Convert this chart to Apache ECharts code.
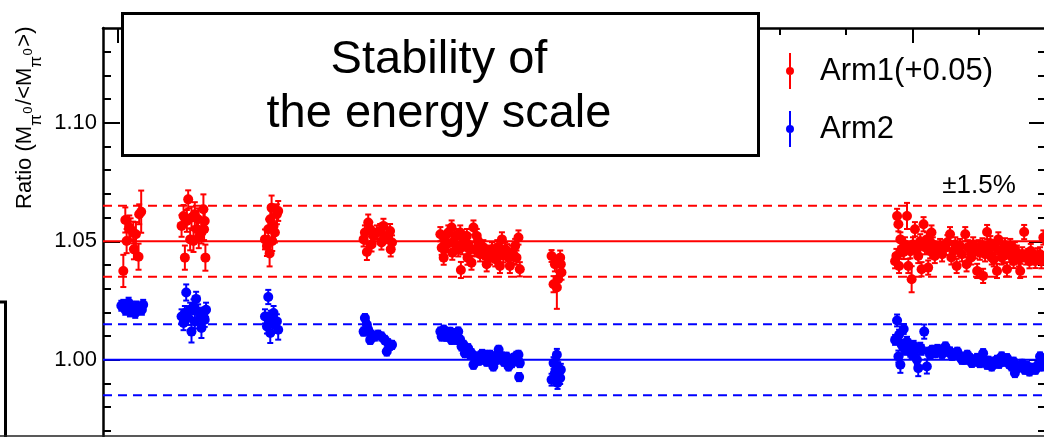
<!DOCTYPE html>
<html><head><meta charset="utf-8">
<script src="https://cdn.jsdelivr.net/npm/echarts@6/dist/echarts.min.js"></script>
<style>html,body{margin:0;padding:0;background:#fff}#c{width:1044px;height:437px}</style>
</head><body><div id="c"></div><script>
// ---- data: [time (days), ratio, error] ----
const ARM1_SHIFT = 0.05;
const arm1Points = [
  [0.8,0.9875,0.0068],[1.1,1.0090,0.0053],[1.3,1.0001,0.0051],[1.7,1.0058,0.0051],[1.9,1.0051,0.0046],[2.3,1.0037,0.0046],[2.4,0.9966,0.0042],[2.7,1.0030,0.0051],[3.1,0.9935,0.0055],[3.2,1.0114,0.0042],[3.5,1.0125,0.0089],
  [9.6,1.0065,0.0046],[9.9,1.0107,0.0046],[10.1,0.9931,0.0051],[10.4,1.0086,0.0046],[10.6,1.0177,0.0038],[10.9,1.0008,0.0046],[11.1,1.0100,0.0046],[11.4,1.0001,0.0046],[11.6,1.0114,0.0051],[11.9,1.0051,0.0046],[12.1,1.0093,0.0046],[12.2,1.0017,0.0046],[12.6,1.0037,0.0046],[12.9,1.0135,0.0063],[13.0,1.0051,0.0046],[13.1,1.0086,0.0046],[13.2,0.9931,0.0055],
  [22.2,1.0008,0.0042],[22.5,0.9980,0.0042],[22.7,1.0051,0.0042],[22.9,0.9949,0.0055],[23.0,1.0093,0.0042],[23.2,1.0142,0.0051],[23.3,1.0001,0.0042],[23.5,1.0065,0.0042],[23.7,1.0037,0.0042],[24.0,1.0114,0.0042],[24.2,1.0128,0.0042],
  [37.1,1.0008,0.0030],[37.3,1.0037,0.0030],[37.6,0.9955,0.0034],[37.8,1.0079,0.0034],[38.1,1.0051,0.0030],[38.3,0.9987,0.0030],[38.6,1.0022,0.0030],[39.1,1.0037,0.0030],[39.6,1.0043,0.0030],[39.8,0.9995,0.0030],[40.1,1.0065,0.0030],[40.6,1.0022,0.0030],[41.1,1.0043,0.0030],[41.2,0.9966,0.0030],[41.4,0.9995,0.0030],
  [48.7,1.0030,0.0030],[48.9,0.9973,0.0030],[49.2,0.9931,0.0030],[49.3,0.9966,0.0030],[49.4,1.0001,0.0030],[49.7,0.9987,0.0030],[49.9,1.0037,0.0030],[50.4,1.0058,0.0030],[50.5,0.9952,0.0030],[50.6,0.9996,0.0030],[50.9,1.0022,0.0030],[51.2,0.9980,0.0030],[51.4,0.9966,0.0030],[51.7,1.0037,0.0030],[51.8,0.9879,0.0034],[52.0,0.9975,0.0030],[52.2,1.0008,0.0030],[52.7,1.0022,0.0030],[52.8,0.9931,0.0030],[52.9,0.9987,0.0030],[53.2,0.9966,0.0030],[53.4,0.9910,0.0030],[53.7,1.0058,0.0030],[53.9,0.9966,0.0030],[54.2,1.0022,0.0030],[54.4,1.0001,0.0030],[54.7,0.9945,0.0030],[55.0,0.9966,0.0030],[55.2,0.9975,0.0030],[55.5,0.9938,0.0030],[55.7,0.9903,0.0030],[56.0,0.9952,0.0030],[56.2,0.9932,0.0030],[56.5,0.9966,0.0030],[56.7,0.9945,0.0030],[57.0,0.9924,0.0030],[57.3,0.9975,0.0030],[57.5,0.9952,0.0030],[57.7,0.9896,0.0030],[58.0,1.0008,0.0030],[58.2,0.9941,0.0030],[58.5,0.9966,0.0030],[58.8,0.9958,0.0030],[59.0,0.9931,0.0030],[59.2,0.9896,0.0030],[59.5,0.9952,0.0030],[59.7,0.9937,0.0030],[60.0,0.9980,0.0030],[60.2,0.9931,0.0030],[60.5,1.0016,0.0030],[60.7,0.9882,0.0030],
  [65.5,0.9938,0.0025],[65.8,0.9819,0.0034],[66.0,0.9903,0.0030],[66.3,0.9805,0.0090],[66.5,0.9840,0.0030],[66.8,0.9931,0.0030],[66.9,0.9903,0.0030],[67.0,0.9868,0.0030],
  [117.4,0.9916,0.0030],[117.6,0.9938,0.0030],[117.7,1.0107,0.0030],[117.9,1.0072,0.0030],[118.0,0.9896,0.0030],[118.2,1.0008,0.0030],[118.4,0.9966,0.0030],[118.7,0.9955,0.0030],[118.9,0.9987,0.0030],[119.2,1.0107,0.0055],[119.4,0.9896,0.0030],[119.7,0.9958,0.0030],[119.9,0.9840,0.0055],[120.1,0.9987,0.0030],[120.4,1.0051,0.0030],[120.7,0.9966,0.0030],[120.9,0.9938,0.0030],[121.2,1.0000,0.0030],[121.4,0.9882,0.0030],[121.7,1.0072,0.0030],[121.9,0.9975,0.0030],[122.2,1.0008,0.0030],[122.4,0.9889,0.0030],[122.7,0.9958,0.0030],[122.9,1.0037,0.0030],[123.1,0.9987,0.0030],[123.4,0.9938,0.0030],[123.7,0.9966,0.0030],[124.2,0.9980,0.0030],[124.5,0.9945,0.0030],[125.0,0.9973,0.0030],[125.3,0.9996,0.0030],[125.7,1.0030,0.0030],[125.9,0.9932,0.0030],[126.2,0.9959,0.0030],[126.5,0.9987,0.0030],[126.7,0.9896,0.0030],[127.0,0.9966,0.0030],[127.2,0.9980,0.0030],[127.5,0.9945,0.0030],[128.0,1.0030,0.0030],[128.2,0.9903,0.0030],[128.4,0.9975,0.0030],[128.7,0.9966,0.0030],[128.9,0.9932,0.0030],[129.2,0.9987,0.0030],[129.5,0.9958,0.0030],[129.8,0.9875,0.0030],[130.0,0.9975,0.0030],[130.2,0.9952,0.0030],[130.6,0.9983,0.0030],[130.7,0.9854,0.0030],[131.0,0.9945,0.0030],[131.3,1.0039,0.0030],[131.5,0.9966,0.0030],[131.8,0.9992,0.0030],[132.0,0.9932,0.0030],[132.3,0.9924,0.0030],[132.5,0.9975,0.0030],[132.8,0.9875,0.0030],[133.0,1.0008,0.0030],[133.3,0.9958,0.0030],[133.5,0.9932,0.0030],[133.8,0.9938,0.0030],[134.0,0.9983,0.0030],[134.3,0.9882,0.0030],[134.6,0.9958,0.0030],[134.8,0.9980,0.0030],[135.1,0.9932,0.0030],[135.3,0.9917,0.0030],[135.5,0.9966,0.0030],[135.8,0.9952,0.0030],[136.1,0.9924,0.0030],[136.3,0.9875,0.0030],[136.6,0.9945,0.0030],[136.9,1.0039,0.0030],[137.2,0.9932,0.0030],[137.5,0.9938,0.0030],[137.7,0.9916,0.0030],[137.9,0.9959,0.0030],[138.3,0.9932,0.0030],[138.6,0.9917,0.0030],[138.9,0.9941,0.0030],[139.3,0.9945,0.0030],[139.5,0.9916,0.0030],[139.8,1.0016,0.0030]
];
const arm2Points = [
  [0.5,1.0228,0.0021],[0.8,1.0232,0.0021],[1.1,1.0211,0.0021],[1.3,1.0218,0.0021],[1.6,1.0241,0.0021],[1.8,1.0204,0.0021],[2.0,1.0224,0.0021],[2.3,1.0211,0.0021],[2.6,1.0198,0.0021],[2.8,1.0225,0.0021],[3.1,1.0215,0.0021],[3.3,1.0218,0.0021],[3.6,1.0211,0.0021],[3.8,1.0232,0.0021],
  [9.6,1.0183,0.0030],[9.9,1.0155,0.0030],[10.1,1.0197,0.0030],[10.3,1.0284,0.0034],[10.6,1.0177,0.0030],[10.9,1.0211,0.0030],[11.1,1.0119,0.0046],[11.4,1.0225,0.0030],[11.6,1.0162,0.0030],[11.8,1.0257,0.0030],[12.1,1.0204,0.0030],[12.4,1.0177,0.0030],[12.6,1.0134,0.0042],[12.9,1.0190,0.0030],[13.1,1.0169,0.0030],[13.3,1.0211,0.0030],
  [22.2,1.0183,0.0030],[22.5,1.0141,0.0030],[22.7,1.0265,0.0030],[22.9,1.0169,0.0030],[23.0,1.0113,0.0042],[23.1,1.0177,0.0030],[23.5,1.0197,0.0030],[23.7,1.0148,0.0030],[24.0,1.0162,0.0030],[24.2,1.0127,0.0042],
  [37.1,1.0119,0.0017],[37.3,1.0176,0.0017],[37.6,1.0148,0.0017],[37.8,1.0127,0.0017],[38.1,1.0084,0.0017],[38.3,1.0106,0.0017],[38.8,1.0098,0.0017],[39.3,1.0106,0.0017],[39.8,1.0098,0.0017],[40.3,1.0084,0.0017],[40.6,1.0035,0.0017],[40.8,1.0070,0.0017],[41.1,1.0059,0.0017],[41.4,1.0063,0.0017],
  [48.7,1.0119,0.0017],[48.9,1.0098,0.0017],[49.2,1.0127,0.0017],[49.4,1.0119,0.0017],[49.6,1.0097,0.0017],[49.9,1.0106,0.0017],[50.2,1.0118,0.0017],[50.4,1.0084,0.0017],[50.7,1.0101,0.0017],[50.9,1.0113,0.0017],[51.2,1.0084,0.0017],[51.4,1.0119,0.0017],[51.7,1.0084,0.0017],[51.9,1.0056,0.0017],[52.2,1.0063,0.0017],[52.4,1.0028,0.0017],[52.7,1.0042,0.0017],[52.9,1.0049,0.0017],[53.2,1.0021,0.0017],[53.4,1.0028,0.0017],[53.7,0.9979,0.0017],[53.9,1.0008,0.0017],[54.2,1.0014,0.0017],[54.5,0.9996,0.0017],[54.7,1.0000,0.0017],[55.0,1.0025,0.0017],[55.5,1.0021,0.0017],[55.7,0.9992,0.0017],[56.0,1.0007,0.0017],[56.2,1.0021,0.0017],[56.5,0.9993,0.0017],[56.7,0.9972,0.0017],[57.0,1.0014,0.0017],[57.2,1.0000,0.0017],[57.5,1.0042,0.0017],[57.7,1.0008,0.0017],[58.0,1.0014,0.0017],[58.3,0.9992,0.0017],[58.5,0.9993,0.0017],[58.7,1.0013,0.0017],[59.0,0.9972,0.0017],[59.2,1.0000,0.0017],[59.5,0.9986,0.0017],[59.8,1.0008,0.0017],[60.0,1.0000,0.0017],[60.2,1.0017,0.0017],[60.5,1.0021,0.0017],[60.6,0.9927,0.0017],[60.7,0.9986,0.0017],
  [65.5,0.9916,0.0025],[65.8,0.9986,0.0025],[66.0,0.9944,0.0025],[66.3,1.0021,0.0025],[66.4,0.9902,0.0025],[66.5,0.9965,0.0025],[66.8,0.9923,0.0025],[66.9,0.9958,0.0025],
  [117.4,1.0084,0.0021],[117.7,1.0166,0.0025],[117.9,1.0014,0.0025],[118.0,1.0106,0.0021],[118.2,0.9979,0.0034],[118.4,1.0063,0.0021],[118.7,1.0130,0.0021],[118.9,1.0042,0.0021],[119.2,1.0076,0.0021],[119.4,1.0056,0.0021],[119.7,1.0034,0.0021],[119.9,1.0028,0.0021],[120.2,1.0059,0.0021],[120.4,1.0042,0.0021],[120.7,1.0000,0.0021],[120.9,0.9965,0.0034],[121.2,1.0051,0.0021],[121.4,1.0042,0.0021],[121.8,1.0119,0.0030],[122.2,0.9972,0.0030],[122.5,1.0034,0.0017],[122.7,1.0021,0.0017],[123.0,1.0042,0.0017],[123.5,1.0028,0.0017],[123.8,1.0046,0.0017],[124.2,1.0042,0.0017],[124.5,1.0025,0.0017],[125.0,1.0056,0.0017],[125.3,1.0034,0.0017],[125.7,1.0035,0.0017],[126.0,1.0017,0.0017],[126.5,1.0021,0.0017],[126.8,1.0034,0.0017],[127.2,1.0014,0.0017],[127.5,1.0000,0.0017],[128.0,1.0000,0.0017],[128.3,1.0021,0.0017],[128.7,1.0007,0.0017],[129.0,0.9987,0.0017],[129.5,0.9993,0.0017],[129.8,1.0008,0.0017],[130.2,0.9986,0.0017],[130.6,1.0000,0.0017],[130.7,1.0028,0.0017],[131.0,0.9992,0.0017],[131.3,0.9979,0.0017],[131.5,0.9996,0.0017],[132.0,0.9972,0.0017],[132.3,0.9992,0.0017],[132.8,1.0000,0.0017],[133.1,0.9983,0.0017],[133.5,1.0014,0.0017],[133.8,0.9992,0.0017],[134.3,1.0007,0.0017],[134.6,0.9983,0.0017],[135.0,0.9972,0.0017],[135.3,0.9992,0.0017],[135.5,0.9944,0.0017],[135.9,0.9966,0.0017],[136.3,0.9972,0.0017],[136.6,0.9983,0.0017],[137.0,0.9958,0.0017],[137.3,0.9975,0.0017],[137.7,0.9951,0.0017],[138.0,0.9966,0.0017],[138.6,0.9958,0.0017],[138.9,0.9975,0.0017],[139.3,1.0014,0.0017],[139.5,0.9972,0.0017],[139.8,0.9992,0.0017]
];
// reference lines: nominal and +-1.5 %
const arm1Lines = [1.05, 1.065, 1.035];
const arm2Lines = [1.00, 1.015, 0.985];
// axis ticks / labels
const yLabels = [1.00, 1.05, 1.10];
const yMajorTicks = [1.00, 1.05, 1.10];
const yMinorTicks = [0.96,0.97,0.98,0.99,1.00,1.01,1.02,1.03,1.04,1.05,1.06,1.07,1.08,1.09,1.10,1.11,1.12,1.13];
const xMajorTicks = [0, 40, 80, 120];
const xMinorTicks = [0,10,20,30,40,50,60,70,80,90,100,110,120,130,140];
const X_MIN = -2.27, X_MAX = 140.2, Y_MIN = 0.96, Y_MAX = 1.14;

const FONT = '"Liberation Sans", Arial, Helvetica, sans-serif';
const RED = '#ff0000', BLUE = '#0000ff';

function xAx(ticks, len, showLine) {
  return {type:'value', position:'top', min:X_MIN, max:X_MAX,
    axisLine:{show:showLine, onZero:false, lineStyle:{color:'#000', width:2.5}},
    axisTick:{show:true, inside:true, length:len, customValues:ticks, lineStyle:{color:'#000', width:2}},
    axisLabel:{show:false}, splitLine:{show:false}};
}
function yAx(pos, ticks, len, showLine, labels) {
  return {type:'value', position:pos, min:Y_MIN, max:Y_MAX,
    axisLine:{show:showLine, onZero:false, lineStyle:{color:'#000', width:2.5}},
    axisTick:{show:true, inside:true, length:len, customValues:ticks, lineStyle:{color:'#000', width:2}},
    axisLabel: labels ? {show:true, customValues:labels, formatter:v=>Number(v).toFixed(2), fontSize:22, color:'#000', fontFamily:FONT, margin:6, padding:[4,0,0,0]} : {show:false},
    splitLine:{show:false}};
}
function errRender(color) {
  return function (params, api) {
    const x = api.value(0);
    const pLo = api.coord([x, api.value(1)]);
    const pHi = api.coord([x, api.value(2)]);
    const cap = 3;
    const style = {stroke: color, lineWidth: 2};
    return {type:'group', children:[
      {type:'line', shape:{x1:pLo[0], y1:pLo[1], x2:pHi[0], y2:pHi[1]}, style},
      {type:'line', shape:{x1:pLo[0]-cap, y1:pLo[1], x2:pLo[0]+cap, y2:pLo[1]}, style},
      {type:'line', shape:{x1:pHi[0]-cap, y1:pHi[1], x2:pHi[0]+cap, y2:pHi[1]}, style}
    ]};
  };
}
function refLineSeries(vals, color) {
  return vals.map((v,i)=>({type:'line', silent:true, z:2, showSymbol:false, symbol:'none',
    xAxisIndex:0, yAxisIndex:0, data:[[X_MIN, v],[X_MAX, v]],
    lineStyle:{color:color, width:2, type: i===0 ? 'solid' : [9,6]}}));
}
const arm1Shown = arm1Points.map(p=>[p[0], p[1]+ARM1_SHIFT, p[2]]);

// y-axis title pieces (measured for layout)
const meas = document.createElement('canvas').getContext('2d');
function tw(s, size){ meas.font = size + 'px "Liberation Sans"'; return meas.measureText(s).width; }
const yTitleParts = [['Ratio (M','main'],['\u03c0','sub'],['0','sup'],['/<M','main'],['\u03c0','sub'],['0','sup'],['>)','main']];
const partStyle = {main:{size:22, dy:0, gap:0}, sub:{size:17, dy:11.5, gap:0.5}, sup:{size:13, dy:3, gap:1.5}};
let cursor = 0;
const yTitleChildren = yTitleParts.map(([t,k])=>{
  const st = partStyle[k];
  const el = {type:'text', x:cursor, y:st.dy, style:{text:t, fontSize:st.size, fontFamily:FONT, fill:'#000', align:'left', textAlign:'left', verticalAlign:'middle', textVerticalAlign:'middle'}};
  cursor += tw(t, st.size) + st.gap;
  return el;
});

const LEG_ICON = 'path://M3,0 L5,0 L5,36 L3,36 Z M0,18 A4,4 0 1 1 8,18 A4,4 0 1 1 0,18 Z';

const chart = echarts.init(document.getElementById('c'), null, {renderer:'canvas'});
chart.setOption({
  animation:false,
  backgroundColor:'#fff',
  grid:{left:103, top:28, width:943, height:426.6, containLabel:false, outerBoundsMode:'none'},
  xAxis:[xAx(xMinorTicks, 7, true), xAx(xMajorTicks, 15, false)],
  yAxis:[yAx('left', yMinorTicks, 8, true, yLabels), yAx('left', yMajorTicks, 17, false, null),
         yAx('right', yMinorTicks, 8, true, null), yAx('right', yMajorTicks, 17, false, null)],
  legend:{data:[{name:'Arm1(+0.05)', icon:LEG_ICON},{name:'Arm2', icon:LEG_ICON}],
    orient:'vertical', left:781, top:48, itemWidth:50, itemHeight:36, itemGap:22, symbolKeepAspect:true,
    selectedMode:false, textStyle:{fontSize:31, color:'#000', fontFamily:FONT}},
  series:[
    ...refLineSeries(arm1Lines, RED),
    ...refLineSeries(arm2Lines, BLUE),
    {type:'custom', name:'arm1err', xAxisIndex:0, yAxisIndex:0, silent:true, z:3,
     data: arm1Shown.map(p=>[p[0], p[1]-p[2], p[1]+p[2]]), encode:{x:0, y:[1,2]}, renderItem: errRender(RED), itemStyle:{color:RED}},
    {type:'custom', name:'arm2err', xAxisIndex:0, yAxisIndex:0, silent:true, z:3,
     data: arm2Points.map(p=>[p[0], p[1]-p[2], p[1]+p[2]]), encode:{x:0, y:[1,2]}, renderItem: errRender(BLUE), itemStyle:{color:BLUE}},
    {type:'scatter', name:'Arm1(+0.05)', xAxisIndex:0, yAxisIndex:0, z:4, symbol:'circle', symbolSize:10,
     itemStyle:{color:RED, opacity:1}, data: arm1Shown.map(p=>[p[0], p[1]])},
    {type:'scatter', name:'Arm2', xAxisIndex:0, yAxisIndex:0, z:4, symbol:'circle', symbolSize:10,
     itemStyle:{color:BLUE, opacity:1}, data: arm2Points.map(p=>[p[0], p[1]])}
  ],
  graphic:{elements:[
    {type:'rect', z:100, shape:{x:122.5, y:13.5, width:636, height:142}, style:{fill:'#fff', stroke:'#000', lineWidth:3}},
    {type:'text', z:101, x:439, y:60, style:{text:'Stability of', fontSize:47, fontFamily:FONT, fill:'#000', align:'center', textAlign:'center', verticalAlign:'middle', textVerticalAlign:'middle'}},
    {type:'text', z:101, x:439, y:114, style:{text:'the energy scale', fontSize:47, fontFamily:FONT, fill:'#000', align:'center', textAlign:'center', verticalAlign:'middle', textVerticalAlign:'middle'}},
    {type:'text', z:101, x:979, y:186, style:{text:'\u00b11.5%', fontSize:26, fontFamily:FONT, fill:'#000', align:'center', textAlign:'center', verticalAlign:'middle', textVerticalAlign:'middle'}},
    {type:'polyline', z:100, shape:{points:[[0,302],[5.5,302],[5.5,440]]}, style:{stroke:'#000', lineWidth:3, fill:null}},
    {type:'line', z:100, shape:{x1:0, y1:436, x2:1044, y2:436}, style:{stroke:'#222', lineWidth:1.5}},
    {type:'group', z:100, x:25, y:209, rotation:Math.PI/2, children:yTitleChildren}
  ]}
});
</script></body></html>
